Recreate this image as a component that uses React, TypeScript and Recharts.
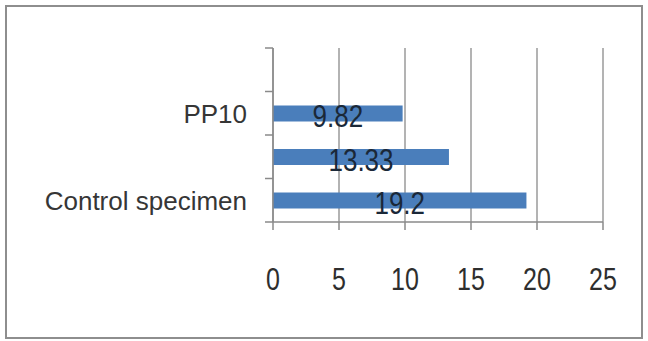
import React from "react";
import { BarChart, Bar, XAxis, YAxis, CartesianGrid, LabelList } from "recharts";

// Specimen groups, bottom to top
const categories = ["Control specimen", "PP5", "PP10", "PP15"];
const values: (number | null)[] = [19.2, 13.33, 9.82, null];
const xTicks = [0, 5, 10, 15, 20, 25];

const data = categories.map((name, i) => ({ name, value: values[i] }));

const AXIS = "#8a8a8a";
const FONT = "'Liberation Sans', Arial, sans-serif";

// Category label on every other band, with tick marks on the band edges
const CategoryTick = (props: any) => {
  const { x, y, payload, index } = props;
  const half = payload && payload.offset ? payload.offset : 21.75;
  return (
    <g>
      <line x1={x - 8} x2={x} y1={y - half} y2={y - half} stroke={AXIS} strokeWidth={1.5} />
      {index === 0 && (
        <line x1={x - 8} x2={x} y1={y + half} y2={y + half} stroke={AXIS} strokeWidth={1.5} />
      )}
      {index % 2 === 0 && (
        <text
          x={x - 26}
          y={y + 1}
          textAnchor="end"
          dominantBaseline="central"
          fontFamily={FONT}
          fontSize={26}
          fill="#363636"
        >
          {payload.value}
        </text>
      )}
    </g>
  );
};

const ValueTick = (props: any) => {
  const { x, y, payload } = props;
  return (
    <g transform={`translate(${x},${y + 49}) scale(1,1.25)`}>
      <text x={0} y={0} textAnchor="middle" dominantBaseline="central" fontFamily={FONT} fontSize={25} fill="#2e2e2e">
        {payload.value}
      </text>
    </g>
  );
};

const BarValue = (props: any) => {
  const { x, y, width, height, value } = props;
  if (value == null) return null;
  const cx = x + width / 2;
  const cy = y + height / 2 + 3;
  return (
    <g transform={`translate(${cx},${cy}) scale(1,1.2)`}>
      <text x={0} y={0} textAnchor="middle" dominantBaseline="central" fontFamily={FONT} fontSize={26} fill="#1a2838">
        {value}
      </text>
    </g>
  );
};

export default function App() {
  return (
    <div style={{ position: "absolute", left: 0, top: 0, width: 648, height: 341, background: "#fff" }}>
      <div
        style={{
          position: "absolute",
          left: 5,
          top: 5,
          width: 634,
          height: 330,
          border: "2px solid #8e8e8e",
        }}
      />
      <div style={{ position: "absolute", left: 0, top: 0 }}>
        <BarChart
          width={648}
          height={341}
          data={data}
          layout="vertical"
          margin={{ top: 48, right: 45, bottom: 59, left: 0 }}
          barSize={16}
        >
          <CartesianGrid horizontal={false} vertical stroke={AXIS} strokeWidth={1.3} />
          <XAxis
            type="number"
            domain={[0, 25]}
            ticks={xTicks}
            interval={0}
            height={60}
            axisLine={{ stroke: AXIS, strokeWidth: 1.5 }}
            tickLine={{ stroke: AXIS, strokeWidth: 1.5 }}
            tickSize={8}
            tickMargin={0}
            tick={<ValueTick />}
          />
          <YAxis
            type="category"
            dataKey="name"
            reversed
            width={273}
            interval={0}
            axisLine={{ stroke: AXIS, strokeWidth: 1.5 }}
            tickLine={false}
            tickSize={0}
            tickMargin={0}
            tick={<CategoryTick />}
          />
          <Bar dataKey="value" fill="#4a7ebb" isAnimationActive={false}>
            <LabelList dataKey="value" content={<BarValue />} />
          </Bar>
        </BarChart>
      </div>
    </div>
  );
}
